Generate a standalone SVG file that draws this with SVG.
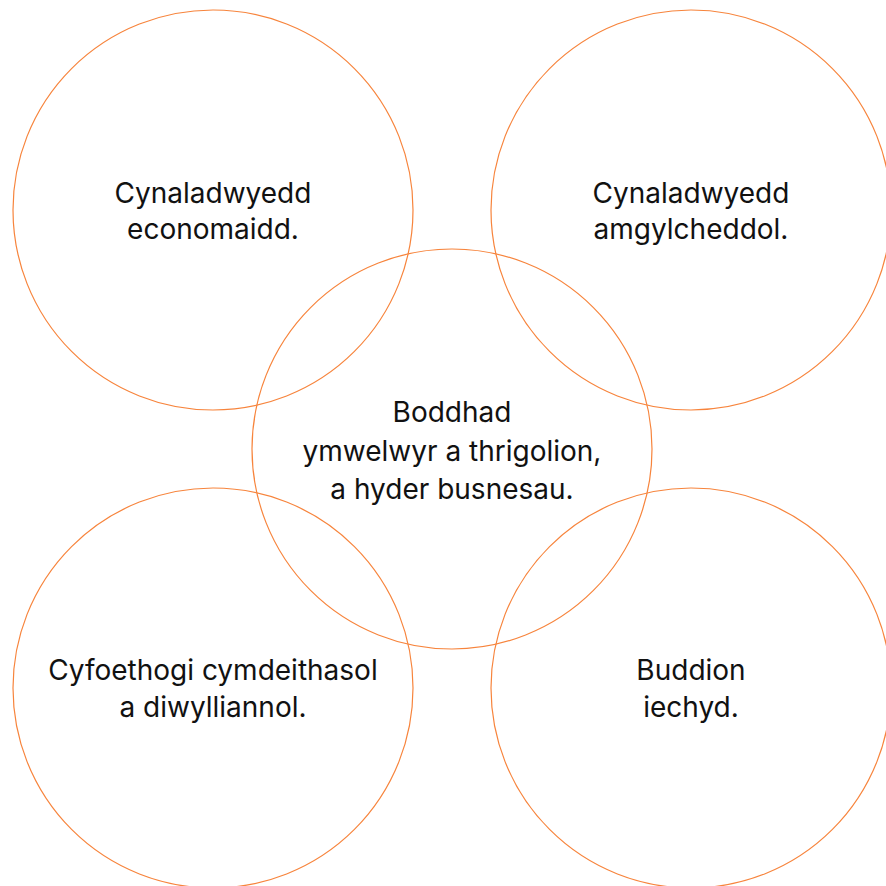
<svg xmlns="http://www.w3.org/2000/svg" width="886" height="886" viewBox="0 0 886 886">
<style>
.c{fill:none;stroke:#F7843C;stroke-width:1.2}
.t{font-family:Inter,"Noto Sans",sans-serif;font-size:28px;fill:#111;text-anchor:middle}
</style>
<rect width="886" height="886" fill="#fff"/>
<g id="econ"><circle class="c" cx="213" cy="210" r="200"/><text class="t" x="213" y="203">Cynaladwyedd</text><text class="t" x="213" y="239">economaidd.</text></g>
<g id="amg"><circle class="c" cx="691" cy="210" r="200"/><text class="t" x="691" y="203">Cynaladwyedd</text><text class="t" x="691" y="239">amgylcheddol.</text></g>
<g id="center"><circle class="c" cx="452" cy="449" r="200"/><text class="t" x="452" y="422">Boddhad</text><text class="t" x="452" y="461">ymwelwyr a thrigolion,</text><text class="t" x="452" y="499">a hyder busnesau.</text></g>
<g id="cyf"><circle class="c" cx="213" cy="688" r="200"/><text class="t" x="213" y="680">Cyfoethogi cymdeithasol</text><text class="t" x="213" y="717">a diwylliannol.</text></g>
<g id="bud"><circle class="c" cx="691" cy="688" r="200"/><text class="t" x="691" y="680">Buddion</text><text class="t" x="691" y="717">iechyd.</text></g>
<g id="connectors"/>
</svg>
